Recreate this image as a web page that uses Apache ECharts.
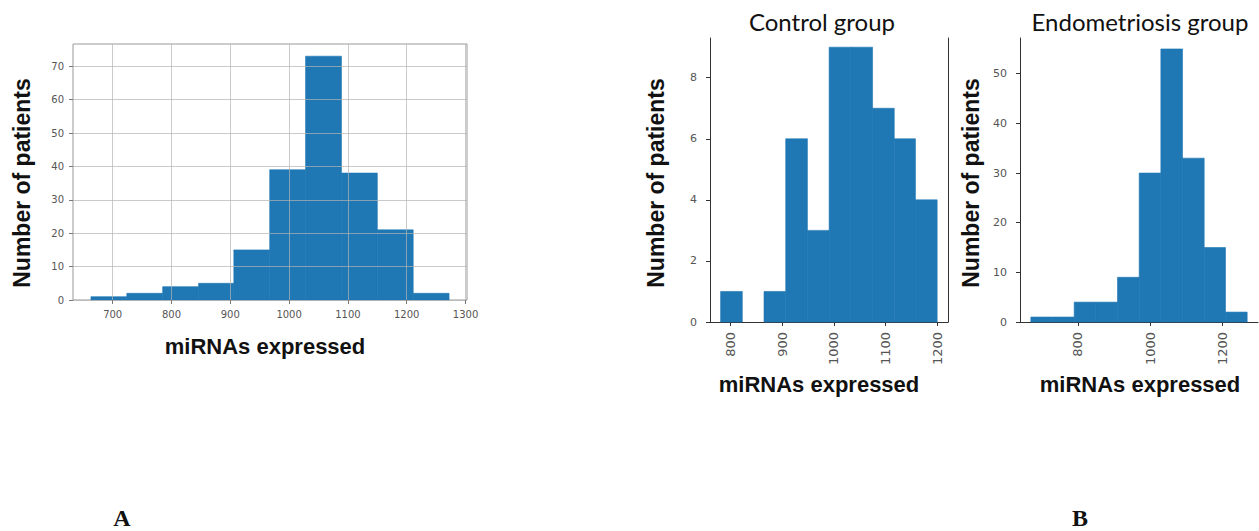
<!DOCTYPE html>
<html>
<head>
<meta charset="utf-8">
<script src="https://cdn.jsdelivr.net/npm/echarts@6/dist/echarts.min.js"></script>
<style>
  html, body { margin: 0; padding: 0; background: #fff; }
  #chart { width: 1259px; height: 531px; }
</style>
</head>
<body>
<div id="chart"></div>
<script>
  // histogram bins (edges) and counts
  var edgesAll = [663, 724, 785, 846, 906, 967, 1028, 1089, 1150, 1211, 1272];
  var countsAll = [1, 2, 4, 5, 15, 39, 73, 38, 21, 2];

  var edgesControl = [781, 823, 865, 907, 949, 991, 1033, 1075, 1117, 1158, 1200];
  var countsControl = [1, 0, 1, 6, 3, 9, 9, 7, 6, 4];

  var edgesEndo = [670, 730, 790, 850, 910, 970, 1030, 1090, 1150, 1209, 1269];
  var countsEndo = [1, 1, 4, 4, 9, 30, 55, 33, 15, 2];

  var ticksAllX = [700, 800, 900, 1000, 1100, 1200, 1300];
  var ticksAllY = [0, 10, 20, 30, 40, 50, 60, 70];
  var ticksControlX = [800, 900, 1000, 1100, 1200];
  var ticksControlY = [0, 2, 4, 6, 8];
  var ticksEndoX = [800, 1000, 1200];
  var ticksEndoY = [0, 10, 20, 30, 40, 50];

  var barColor = '#1f77b4';
  var yNameFont = 'bold 23px "Liberation Sans", Arial, sans-serif';
  var xNameFont = 'bold 22px "Liberation Sans", Arial, sans-serif';
  var titleFont = '24px Lato, "Open Sans", sans-serif';
  var tickFont = '"DejaVu Sans", sans-serif';

  function plain(v) { return String(v); }

  function toBins(edges, counts) {
    var out = [];
    for (var i = 0; i < counts.length; i++) {
      out.push([edges[i], edges[i + 1], counts[i]]);
    }
    return out;
  }

  function histItem(params, api) {
    if (!api.value(2)) return null; // empty bin
    var p0 = api.coord([api.value(0), 0]);
    var p1 = api.coord([api.value(1), api.value(2)]);
    return {
      type: 'rect',
      shape: { x: p0[0], y: p1[1], width: p1[0] - p0[0], height: p0[1] - p1[1] },
      // thin stroke in the same colour hides the seams between bins
      style: { fill: barColor, stroke: barColor, lineWidth: 0.6 }
    };
  }

  function histSeries(idx, edges, counts) {
    return {
      type: 'custom',
      xAxisIndex: idx,
      yAxisIndex: idx,
      renderItem: histItem,
      encode: { x: [0, 1], y: 2 },
      data: toBins(edges, counts),
      z: 2
    };
  }

  function bAxisX(idx, min, max, ticks) {
    return {
      type: 'value', gridIndex: idx, min: min, max: max,
      axisLine: { show: true, onZero: false, lineStyle: { color: '#333', width: 1 } },
      axisTick: { show: true, length: 4, customValues: ticks, lineStyle: { color: '#333' } },
      axisLabel: { customValues: ticks, formatter: plain, rotate: 90, margin: 10, fontSize: 13, color: '#555', fontFamily: tickFont },
      splitLine: { show: false }
    };
  }

  function bAxisY(idx, max, ticks) {
    return {
      type: 'value', gridIndex: idx, min: 0, max: max,
      axisLine: { show: true, lineStyle: { color: '#333', width: 1 } },
      axisTick: { show: true, length: 4, customValues: ticks, lineStyle: { color: '#333' } },
      axisLabel: { customValues: ticks, formatter: plain, margin: 13, fontSize: 11, color: '#555', fontFamily: tickFont },
      splitLine: { show: false }
    };
  }

  function text(x, y, str, font, rotate) {
    return {
      type: 'text', x: x, y: y, rotation: rotate ? Math.PI / 2 : 0,
      style: { text: str, font: font, fill: '#111', textAlign: 'center', textVerticalAlign: 'middle' }
    };
  }

  var myChart = echarts.init(document.getElementById('chart'), null, { renderer: 'svg' });

  var option = {
    animation: false,
    grid: [
      { left: 73, top: 44, width: 394, height: 256, show: true, borderColor: '#999', borderWidth: 1, backgroundColor: 'transparent' },
      { left: 710, top: 38, width: 238, height: 284 },
      { left: 1020, top: 38, width: 238, height: 284 }
    ],
    xAxis: [
      {
        type: 'value', gridIndex: 0, min: 632.5, max: 1302.5, z: 5,
        axisLine: { show: false },
        axisTick: { show: true, length: 4, customValues: ticksAllX, lineStyle: { color: '#777' } },
        axisLabel: { customValues: ticksAllX, formatter: plain, margin: 9, fontSize: 10, color: '#555', fontFamily: tickFont },
        splitLine: { show: true, lineStyle: { color: 'rgba(180,180,180,0.7)', width: 1 } }
      },
      bAxisX(1, 760.5, 1221, ticksControlX),
      bAxisX(2, 640, 1299, ticksEndoX)
    ],
    yAxis: [
      {
        type: 'value', gridIndex: 0, min: 0, max: 76.65, z: 5,
        axisLine: { show: false },
        axisTick: { show: true, length: 4, customValues: ticksAllY, lineStyle: { color: '#777' } },
        axisLabel: { customValues: ticksAllY, formatter: plain, margin: 9, fontSize: 10, color: '#555', fontFamily: tickFont },
        splitLine: { show: true, lineStyle: { color: 'rgba(180,180,180,0.7)', width: 1 } }
      },
      bAxisY(1, 9.3, ticksControlY),
      bAxisY(2, 57.2, ticksEndoY),
      {
        // right spine of the control panel
        type: 'value', gridIndex: 1, position: 'right', min: 0, max: 9.3,
        axisLine: { show: true, lineStyle: { color: '#333', width: 1 } },
        axisTick: { show: false }, axisLabel: { show: false }, splitLine: { show: false }
      }
    ],
    series: [
      histSeries(0, edgesAll, countsAll),
      histSeries(1, edgesControl, countsControl),
      histSeries(2, edgesEndo, countsEndo)
    ],
    graphic: [
      text(22, 183, 'Number of patients', yNameFont, true),
      text(265, 346, 'miRNAs expressed', xNameFont),

      text(822, 21, 'Control group', titleFont),
      text(656, 183, 'Number of patients', yNameFont, true),
      text(819, 384, 'miRNAs expressed', xNameFont),

      text(1140, 21, 'Endometriosis group', titleFont),
      text(971, 183, 'Number of patients', yNameFont, true),
      text(1140, 384, 'miRNAs expressed', xNameFont),

      text(122, 518, 'A', 'bold 24px "Liberation Serif", "DejaVu Serif", serif'),
      text(1080, 518, 'B', 'bold 24px "Liberation Serif", "DejaVu Serif", serif')
    ]
  };

  myChart.setOption(option);
</script>
</body>
</html>
